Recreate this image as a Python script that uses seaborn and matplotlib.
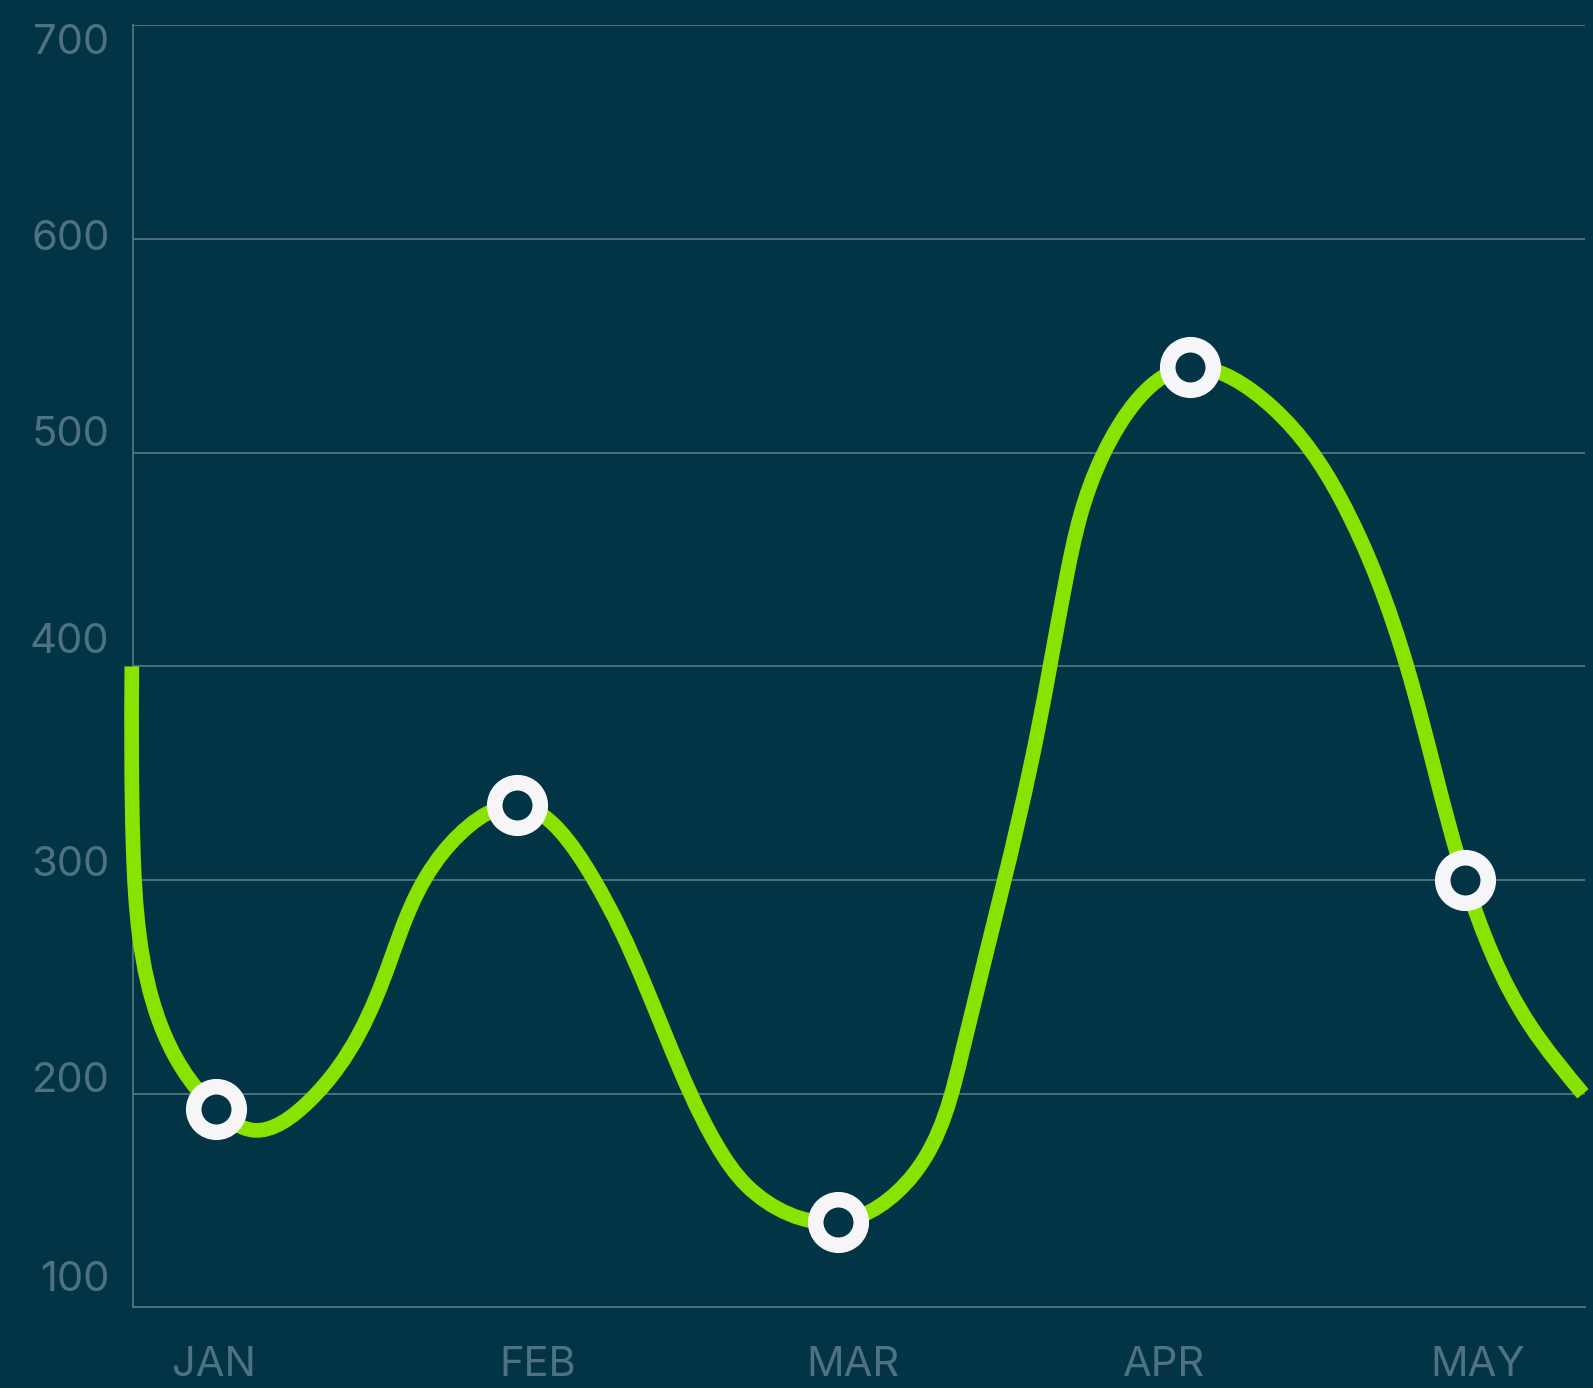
import numpy as np
import matplotlib
matplotlib.use('Agg')
import matplotlib.pyplot as plt
import matplotlib.transforms as mtransforms
from matplotlib.path import Path
from matplotlib.patches import PathPatch
import seaborn as sns

# x axis is in month units (JAN = 1 ... MAY = 5)
months = ['JAN', 'FEB', 'MAR', 'APR', 'MAY']
month_pos = [1, 2.025, 3.023, 4.007, 5.0]
y_ticks = [100, 200, 300, 400, 500, 600, 700]

# ringed data points
point_x = [1.005, 1.958, 2.974, 4.087, 4.959]
point_y = [193, 335, 140, 540, 300]

# the green curve
curve_x = [0.740, 0.744, 0.829, 1.005, 1.123, 1.304, 1.557, 1.725, 1.958,
           2.199, 2.358, 2.433, 2.591, 2.686, 2.974, 3.212, 3.370, 3.603,
           3.698, 3.813, 4.087, 4.351, 4.563, 4.775, 4.959, 5.165, 5.332]
curve_y = [400, 316, 233, 193, 183, 197, 262, 313, 335,
           301, 253, 226, 176, 157, 140, 162, 221, 367,
           442, 499, 540, 521, 479, 400, 300, 232, 200]

BG = '#033445'
GRID = '#4f6e7d'
TEXT = '#4f7282'
GREEN = '#89e200'
RING = '#f6f6f8'


def spline_path(xs, ys, sx=316.0, sy=2.137):
    """natural cubic spline through the points (chord length parameter,
    worked out in screen-like proportions), returned as bezier segments"""
    P = np.column_stack([np.asarray(xs, float) * sx, np.asarray(ys, float) * sy])
    n = len(P)
    h = np.hypot(*np.diff(P, axis=0).T)
    A = np.zeros((n, n))
    rhs = np.zeros((n, 2))
    A[0, 0] = A[-1, -1] = 1
    for i in range(1, n - 1):
        A[i, i - 1] = h[i - 1]
        A[i, i] = 2 * (h[i - 1] + h[i])
        A[i, i + 1] = h[i]
        rhs[i] = 6 * ((P[i + 1] - P[i]) / h[i] - (P[i] - P[i - 1]) / h[i - 1])
    M = np.linalg.solve(A, rhs)
    verts = [P[0]]
    codes = [Path.MOVETO]
    for i in range(n - 1):
        chord = (P[i + 1] - P[i]) / h[i]
        d0 = chord - h[i] * (2 * M[i] + M[i + 1]) / 6
        d1 = chord + h[i] * (M[i] + 2 * M[i + 1]) / 6
        verts += [P[i] + d0 * h[i] / 3, P[i + 1] - d1 * h[i] / 3, P[i + 1]]
        codes += [Path.CURVE4] * 3
    verts = np.array(verts) / [sx, sy]
    return Path(verts, codes)


sns.set_style('dark', {'axes.facecolor': BG, 'figure.facecolor': BG})
plt.rcParams['font.family'] = ['Inter', 'DejaVu Sans']

fig = plt.figure(figsize=(15.93, 13.88), dpi=100)
ax = fig.add_axes([0.0835, 0.058, 0.9115, 0.9237])

curve = PathPatch(spline_path(curve_x, curve_y), facecolor='none', edgecolor=GREEN,
                  linewidth=10.6, capstyle='butt', joinstyle='round',
                  clip_on=False, zorder=3)
ax.add_patch(curve)
sns.scatterplot(x=point_x, y=point_y, s=1076, color=BG, edgecolor=RING,
                linewidth=11.2, zorder=5, clip_on=False, ax=ax)

ax.set_xlim(0.7437, 5.3386)
ax.set_ylim(100, 700)
ax.set_xticks(month_pos)
ax.set_xticklabels(months)
ax.set_yticks(y_ticks)
ax.set_xlabel('')
ax.set_ylabel('')

ax.yaxis.grid(True, color=GRID, linewidth=1.4)
ax.xaxis.grid(False)
ax.set_axisbelow(True)
for side in ['top', 'right']:
    ax.spines[side].set_visible(False)
for side in ['left', 'bottom']:
    ax.spines[side].set_visible(True)
    ax.spines[side].set_color(GRID)
    ax.spines[side].set_linewidth(1.4)

ax.tick_params(axis='both', length=0, colors=TEXT, labelsize=30)
ax.tick_params(axis='y', pad=17)
ax.tick_params(axis='x', pad=28)

# y labels sit a little above their grid lines, the top one below (points)
label_shift = {700: -9.5, 600: 3, 500: 15.5, 400: 20.5, 300: 13.5, 200: 12, 100: 23}
for lab, val in zip(ax.get_yticklabels(), y_ticks):
    lab.set_transform(lab.get_transform() +
                      mtransforms.ScaledTranslation(0, label_shift[val] / 72,
                                                    fig.dpi_scale_trans))

fig.savefig('out.png', dpi=100, facecolor=BG)
